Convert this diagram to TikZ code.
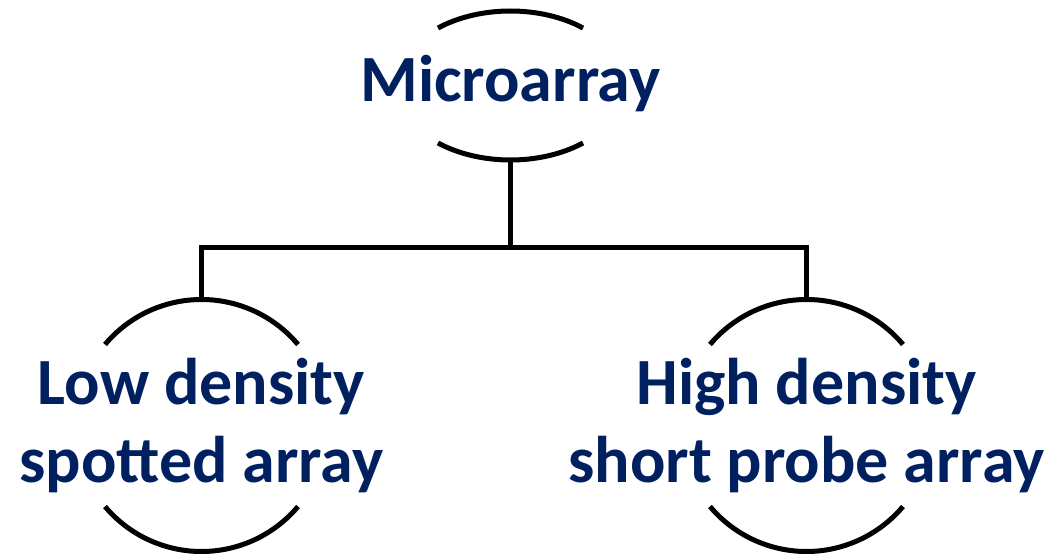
\documentclass[tikz,border=0pt]{standalone}
\usepackage{fontspec}
\setmainfont{Carlito}
\definecolor{navy}{HTML}{002060}
\begin{document}
\begin{tikzpicture}[x=1pt,y=1pt,
  label/.style={text=navy,font=\fontsize{66}{78}\selectfont\bfseries,align=center,inner sep=0pt},
  rim/.style={draw=black,line width=5pt},
  link/.style={draw=black,line width=5pt,line join=miter}]
\useasboundingbox (0,0) rectangle (1050,554);
% centres of the three groups
\coordinate (topc) at (510.5,468.5);
\coordinate (leftc) at (201.5,128.5);
\coordinate (rightc) at (806.5,128.5);
% text
\node[label,anchor=base] (micro) at (510.5,452) {Microarray};
\node[label,anchor=base] (low) at (201.5,71) {Low density\\spotted array};
\node[label,anchor=base] (high) at (806.5,71) {High density\\short probe array};
% brackets above and below each text
\draw[rim] ([shift={(50.5:114 and 74.5)}]topc) arc[start angle=50.5,end angle=129.5,x radius=114,y radius=74.5];
\draw[rim] ([shift={(230.5:114 and 74.5)}]topc) arc[start angle=230.5,end angle=309.5,x radius=114,y radius=74.5];
\foreach \c in {leftc,rightc}{
  \draw[rim] ([shift={(40:126)}]\c) arc[start angle=40,end angle=140,radius=126];
  \draw[rim] ([shift={(220:126)}]\c) arc[start angle=220,end angle=320,radius=126];
}
% connection points
\coordinate (topbot) at ([shift={(0,-74.5)}]topc);
\coordinate (lefttop) at ([shift={(0,126)}]leftc);
\coordinate (righttop) at ([shift={(0,126)}]rightc);
\coordinate (bus) at (510.5,306.5);
\draw[link] (topbot) -- (bus);
\draw[link] (lefttop) |- (bus) -| (righttop);
\end{tikzpicture}
\end{document}
